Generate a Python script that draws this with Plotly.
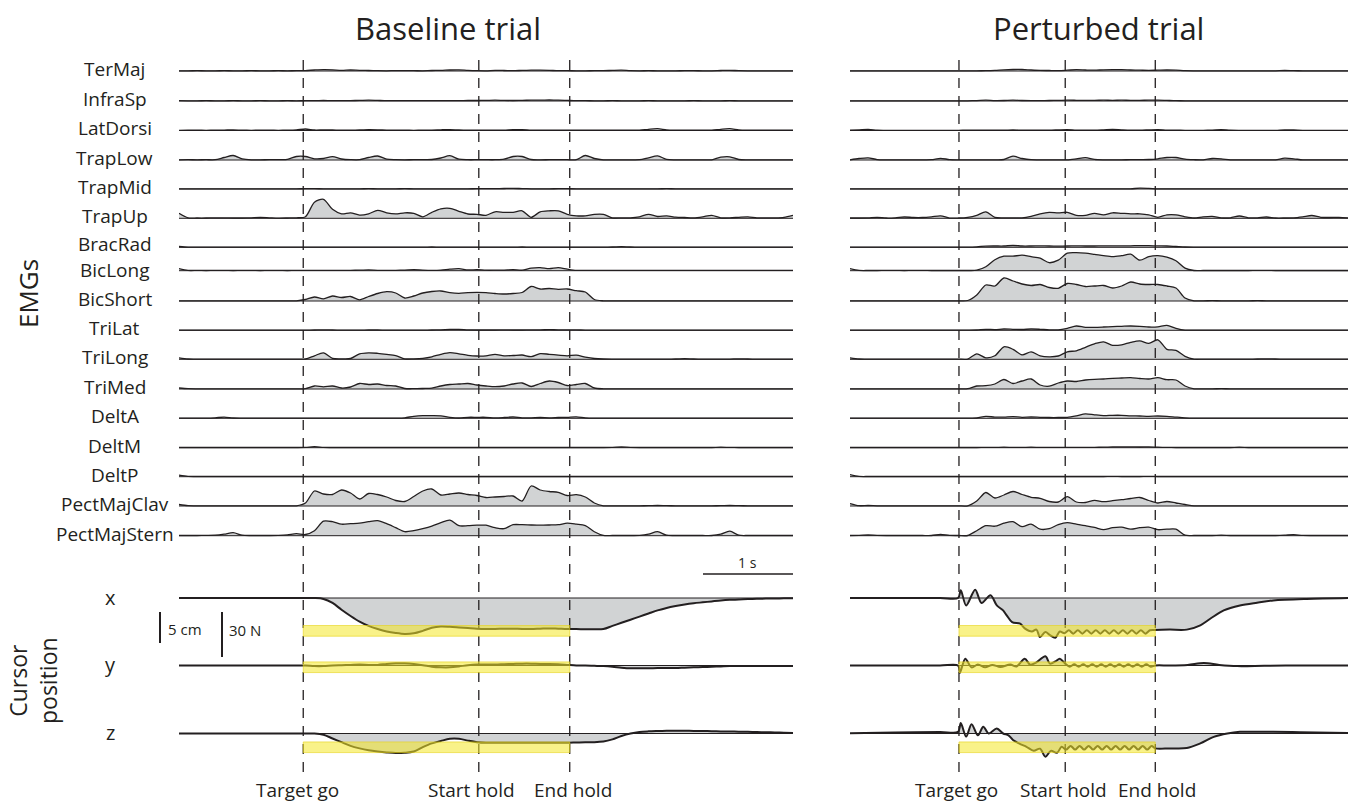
import plotly.graph_objects as go

# ------------------------------------------------------------------ data
MUSCLES = ["TerMaj", "InfraSp", "LatDorsi", "TrapLow", "TrapMid", "TrapUp",
           "BracRad", "BicLong", "BicShort", "TriLat", "TriLong", "TriMed",
           "DeltA", "DeltM", "DeltP", "PectMajClav", "PectMajStern"]
PANEL_TITLES = ["Baseline trial", "Perturbed trial"]
EVENT_LABELS = ["Target go", "Start hold", "End hold"]
EVENTS_B = [1.38, 3.33, 4.34]          # s
EVENTS_P = [1.21, 2.39, 3.39]          # s
DUR_B = 6.82                           # s
DUR_P = 5.53                           # s
CURSOR_LABELS = ["x", "y", "z"]
TARGET_CM = [-5.3, -0.28, -2.22]       # target centre per axis (cm)
TARGET_HALF_CM = 0.86
SCALE_TIME_S = 1
SCALE_POS_CM = 5
SCALE_FORCE_N = 30

# EMG envelopes, baseline trial (sampled every ~0.1 s, arbitrary units)
B_TERMAJ = [0.2,0.2,0.3,0.2,0.2,0.3,0.2,0.2,0.3,0.2,
            0.2,0.3,0.2,0.3,0.4,1.0,1.4,1.2,0.6,1.0,
            0.6,0.5,0.3,0.2,0.4,0.3,0.3,0.2,0.5,0.6,
            1.0,1.1,0.6,0.3,0.2,0.6,0.5,0.3,0.6,0.8,
            0.9,0.7,0.3,0.3,0.2,0.2,0.3,0.3,0.6,0.8,
            0.3,0.2,0.3,0.2,0.2,0.2,0.3,0.3,0.2,0.2,
            0.5,0.7,0.3,0.2,0.2,0.2,0.2,0.2,0.2]
B_INFRASP = [0.3,0.2,0.2,0.3,0.2,0.2,0.3,0.2,0.2,0.3,
             0.2,0.2,0.3,0.2,0.3,0.4,0.5,0.4,0.3,0.4,
             0.6,0.9,0.6,0.3,0.3,0.3,0.4,0.3,0.3,0.4,
             0.3,0.4,0.5,0.5,0.6,0.8,0.6,0.5,0.7,0.8,
             0.9,1.0,0.9,0.6,0.3,0.3,0.2,0.2,0.3,0.2,
             0.2,0.2,0.3,0.2,0.2,0.2,0.2,0.3,0.2,0.2,
             0.2,0.3,0.2,0.2,0.2,0.2,0.2,0.2,0.2]
B_LATDORSI = [0.2,0.3,0.3,0.2,0.3,0.4,0.6,0.3,0.2,0.3,
              0.3,0.2,0.3,0.6,1.5,0.5,0.6,0.5,0.3,0.4,
              0.5,0.8,0.7,0.4,0.3,0.3,0.2,0.3,0.4,0.7,
              0.9,0.5,0.3,0.3,0.3,0.3,0.4,0.8,0.9,0.4,
              0.3,0.3,0.3,0.3,0.3,0.3,0.3,0.3,0.3,0.3,
              0.3,0.3,1.2,1.8,0.6,0.3,0.3,0.3,0.3,0.3,
              1.2,1.8,0.6,0.3,0.3,0.3,0.3,0.3,0.3]
B_TRAPLOW = [0.2,0.3,0.2,0.3,0.3,2.5,4.5,1.2,0.2,0.2,
             0.3,0.4,0.6,3.5,3.5,1.2,1.5,3.3,1.0,0.3,
             0.3,2.5,4.0,0.8,0.3,0.2,0.3,0.4,0.5,2.0,
             4.3,0.8,0.3,0.3,0.3,0.3,0.8,3.5,3.5,0.5,
             0.2,0.3,0.3,0.3,0.3,4.5,1.5,0.2,0.2,0.2,
             0.2,0.3,2.2,4.2,0.6,0.2,0.2,0.2,0.2,0.2,
             2.8,3.2,0.5,0.2,0.2,0.2,0.2,0.2,0.2]
B_TRAPMID = [0.2,0.2,0.2,0.2,0.2,0.2,0.2,0.2,0.2,0.2,
             0.2,0.2,0.2,0.2,0.3,0.3,0.2,0.2,0.2,0.2,
             0.2,0.3,0.2,0.2,0.2,0.3,0.2,0.2,0.2,0.2,
             0.2,0.2,0.2,0.3,0.3,0.3,0.5,0.7,0.4,0.2,
             0.2,0.2,0.3,0.3,0.2,0.2,0.2,0.2,0.2,0.2,
             0.2,0.2,0.2,0.2,0.3,0.2,0.2,0.2,0.2,0.2,
             0.2,0.2,0.2,0.2,0.2,0.2,0.2,0.2,0.2]
B_TRAPUP = [5.0,0.5,0.3,0.3,0.5,0.4,0.3,0.3,0.5,0.8,
            0.5,0.2,0.3,0.5,1.5,16.0,19.0,9.0,4.5,5.5,
            3.2,4.5,8.0,5.5,4.5,5.5,5.0,1.5,6.0,9.5,
            10.0,7.0,4.3,4.0,3.0,6.5,6.0,6.0,7.5,1.0,
            6.5,7.5,7.5,4.0,2.5,2.5,4.0,4.0,0.5,0.5,
            0.5,1.5,4.0,1.8,2.5,1.2,0.8,0.5,1.5,3.0,
            0.5,0.4,1.0,1.5,0.5,0.5,0.5,1.0,3.0]
B_BRACRAD = [0.8,0.2,0.2,0.2,0.2,0.2,0.2,0.2,0.2,0.2,
             0.2,0.2,0.2,0.2,0.2,0.2,0.2,0.2,0.2,0.2,
             0.2,0.2,0.2,0.2,0.2,0.2,0.2,0.2,0.3,0.2,
             0.2,0.2,0.2,0.2,0.2,0.2,0.2,0.2,0.3,0.2,
             0.2,0.2,0.2,0.2,0.2,0.2,0.2,0.2,0.3,0.6,
             0.3,0.2,0.2,0.2,0.2,0.2,0.2,0.2,0.2,0.2,
             0.2,0.2,0.2,0.2,0.2,0.2,0.2,0.2,0.2]
B_BICLONG = [2.0,0.3,0.3,0.2,0.3,0.3,0.2,0.3,0.3,0.2,
             0.3,0.3,0.2,0.3,0.3,0.3,0.4,0.3,0.3,0.4,
             0.5,0.8,0.4,0.3,0.4,0.6,1.0,0.6,0.4,0.6,
             1.5,2.0,0.8,1.0,0.5,0.5,0.6,1.0,0.5,2.5,
             3.0,2.0,3.0,1.5,0.3,0.3,0.3,0.3,0.3,0.3,
             0.3,0.3,0.4,0.3,0.3,0.3,0.3,0.3,0.3,0.3,
             0.3,0.3,0.3,0.3,0.3,0.4,0.3,0.3,0.3]
B_BICSHORT = [0.2,0.2,0.2,0.2,0.2,0.2,0.2,0.2,0.2,0.2,
              0.2,0.2,0.2,0.2,1.5,4.0,2.2,5.0,3.5,4.5,
              1.2,4.5,7.5,9.3,8.0,3.0,5.0,8.0,9.5,10.0,
              8.3,7.7,8.3,8.6,8.3,7.5,7.0,7.5,8.5,14.5,
              12.0,12.5,11.7,12.0,10.3,9.0,1.5,0.2,0.2,0.2,
              0.2,0.2,0.2,0.2,0.2,0.2,0.2,0.2,0.2,0.2,
              0.2,0.2,0.2,0.2,0.2,0.2,0.2,0.2,0.2]
B_TRILAT = [0.2,0.2,0.2,0.2,0.2,0.2,0.2,0.2,0.2,0.2,
            0.2,0.2,0.2,0.2,0.2,0.3,0.5,0.3,0.2,0.2,
            0.2,0.3,0.3,0.2,0.2,0.2,0.2,0.2,0.3,0.5,
            0.9,1.0,0.5,0.3,0.3,0.3,0.4,0.3,0.3,0.4,
            0.5,0.6,0.5,0.5,0.4,0.2,0.2,0.2,0.2,0.2,
            0.2,0.2,0.2,0.2,0.2,0.2,0.2,0.2,0.2,0.2,
            0.2,0.2,0.2,0.2,0.2,0.2,0.2,0.2,0.2]
B_TRILONG = [1.5,0.3,0.2,0.2,0.2,0.2,0.2,0.2,0.2,0.2,
             0.2,0.2,0.2,0.2,0.3,3.5,6.5,1.0,0.5,0.8,
             5.5,6.5,6.0,5.0,3.7,0.5,0.5,1.0,2.5,5.0,
             6.7,5.5,4.0,3.3,3.5,5.0,3.5,3.8,4.3,2.7,
             5.7,5.0,4.2,3.5,4.2,2.2,0.8,0.3,0.2,0.2,
             0.2,0.2,0.2,0.2,0.2,0.3,0.6,0.3,0.2,0.2,
             0.2,0.2,0.5,0.3,0.2,0.2,0.2,0.2,0.2]
B_TRIMED = [1.0,0.3,0.2,0.2,0.2,0.2,0.2,0.2,0.2,0.2,
            0.2,0.2,0.2,0.2,0.3,3.0,2.2,3.0,1.0,2.0,
            5.5,4.5,5.0,3.5,3.0,0.5,0.3,0.5,0.8,3.0,
            4.5,5.0,5.5,4.0,3.0,2.3,3.0,5.0,6.0,2.5,
            5.5,8.0,6.5,3.5,4.5,5.5,1.0,0.2,0.2,0.2,
            0.2,0.2,0.2,0.2,0.2,0.2,0.2,0.2,0.2,0.2,
            0.2,0.2,0.2,0.2,0.2,0.2,0.2,0.2,0.2]
B_DELTA = [0.2,0.2,0.2,0.2,0.5,1.2,0.3,0.2,0.2,0.2,
           0.2,0.2,0.2,0.2,0.2,0.2,0.2,0.2,0.2,0.2,
           0.2,0.2,0.2,0.2,0.2,0.5,2.0,2.7,2.7,2.5,
           1.0,0.3,1.0,1.0,1.0,0.5,0.8,1.3,0.5,0.5,
           0.8,0.5,0.8,1.0,1.5,0.5,0.2,0.2,0.2,0.2,
           0.2,0.2,0.2,0.2,0.2,0.2,0.2,0.2,0.2,0.2,
           0.2,0.2,0.2,0.2,0.2,0.2,0.2,0.2,0.2]
B_DELTM = [0.2,0.2,0.2,0.2,0.2,0.2,0.2,0.2,0.2,0.2,
           0.2,0.2,0.2,0.2,0.3,1.0,0.4,0.2,0.2,0.2,
           0.2,0.2,0.2,0.2,0.2,0.2,0.2,0.2,0.2,0.2,
           0.2,0.2,0.2,0.2,0.2,0.2,0.2,0.2,0.2,0.2,
           0.2,0.2,0.2,0.2,0.2,0.2,0.2,0.2,0.3,0.7,
           0.3,0.2,0.2,0.2,0.2,0.2,0.2,0.2,0.2,0.2,
           0.5,0.3,0.2,0.2,0.2,0.2,0.2,0.2,0.2]
B_DELTP = [1.5,0.3,0.2,0.2,0.2,0.2,0.2,0.2,0.2,0.2,
           0.2,0.2,0.2,0.2,0.2,0.2,0.2,0.2,0.2,0.2,
           0.2,0.2,0.2,0.2,0.2,0.2,0.2,0.2,0.2,0.2,
           0.2,0.2,0.2,0.2,0.2,0.2,0.2,0.2,0.2,0.2,
           0.2,0.2,0.2,0.2,0.2,0.2,0.2,0.2,0.2,0.2,
           0.2,0.2,0.2,0.2,0.2,0.2,0.2,0.2,0.2,0.2,
           0.2,0.2,0.2,0.2,0.2,0.2,0.2,0.2,0.2]
B_PECTCLAV = [1.5,0.3,0.2,0.2,0.2,0.2,0.2,0.2,0.2,0.2,
              0.2,0.2,0.2,0.2,3.0,15.0,12.0,11.5,16.0,13.0,
              7.0,12.5,11.5,9.0,5.5,4.5,9.5,15.0,17.0,11.0,
              12.0,13.0,11.5,10.5,8.5,9.0,9.5,10.0,5.0,20.0,
              16.0,14.5,13.7,10.5,11.3,9.0,3.0,0.2,0.2,0.2,
              0.2,0.2,0.3,0.5,0.3,0.2,0.2,0.2,0.2,0.2,
              0.3,0.5,0.3,0.2,0.2,0.2,0.2,0.2,0.2]
B_PECTSTERN = [0.2,0.2,0.2,0.3,0.5,1.5,3.0,0.5,0.2,0.2,
               0.2,0.3,0.8,2.0,1.2,5.0,14.5,14.0,11.5,12.0,
               12.5,14.0,15.0,12.0,8.0,4.0,5.0,7.0,9.5,13.0,
               15.5,10.0,10.0,10.5,10.5,8.0,7.0,11.0,11.0,10.7,
               10.5,10.7,11.0,12.5,11.5,10.0,4.0,0.3,0.2,0.2,
               0.2,0.3,1.5,4.0,0.5,0.2,0.2,0.2,0.2,0.2,
               1.5,4.5,0.5,0.2,0.2,0.2,0.2,0.2,0.2]

# EMG envelopes, perturbed trial
P_TERMAJ = [0.2,0.2,0.2,0.2,0.2,0.2,0.2,0.2,0.2,0.2,
            0.2,0.2,0.2,0.2,0.2,0.3,0.6,1.2,1.5,1.5,
            1.0,0.6,0.5,0.4,0.8,1.3,1.0,0.8,1.2,1.3,
            1.3,1.0,0.8,0.6,0.8,1.0,0.8,0.3,0.2,0.2,
            0.2,0.2,0.2,0.2,0.2,0.2,0.2,0.2,0.5,0.3,
            0.2,0.2,0.2,0.2,0.2,0.2]
P_INFRASP = [0.2,0.2,0.2,0.2,0.2,0.2,0.2,0.2,0.2,0.2,
             0.2,0.2,0.2,0.2,0.4,0.8,0.4,0.5,0.9,0.5,
             0.4,0.4,0.5,0.6,0.8,0.7,0.6,0.7,0.8,0.7,
             0.8,0.7,0.7,0.8,0.9,0.6,0.3,0.2,0.2,0.2,
             0.2,0.2,0.2,0.2,0.2,0.2,0.2,0.2,0.2,0.2,
             0.2,0.2,0.2,0.2,0.2,0.2]
P_LATDORSI = [0.3,0.6,1.0,0.4,0.2,0.2,0.2,0.2,0.2,0.2,
              0.2,0.2,0.2,0.4,0.3,0.3,0.4,0.3,0.6,0.3,
              0.3,0.3,0.3,0.6,0.9,0.4,0.4,0.3,0.6,1.0,
              0.6,0.3,0.3,0.6,0.9,0.4,0.3,0.2,0.2,0.2,
              0.4,0.8,0.3,0.2,0.2,0.2,0.2,0.2,0.6,0.5,
              0.2,0.2,0.2,0.2,0.2,0.2]
P_TRAPLOW = [0.2,1.5,2.2,0.4,0.2,0.2,0.2,0.2,0.2,0.3,
             1.7,0.4,0.2,0.2,0.2,0.2,0.2,0.5,3.8,1.5,
             0.3,0.2,0.2,0.2,0.2,1.2,2.4,0.6,0.2,0.2,
             0.2,0.3,0.3,0.5,1.2,2.5,2.5,0.8,0.3,0.2,
             1.5,1.2,0.2,0.2,0.2,0.2,0.2,0.2,1.8,1.2,
             0.2,0.2,0.2,0.2,0.2,0.2]
P_TRAPMID = [0.2,0.2,0.2,0.2,0.2,0.2,0.2,0.2,0.2,0.2,
             0.2,0.2,0.2,0.2,0.2,0.2,0.2,0.2,0.2,0.2,
             0.2,0.2,0.2,0.2,0.2,0.2,0.2,0.2,0.2,0.2,
             0.2,0.2,0.8,0.6,0.2,0.2,0.2,0.2,0.2,0.2,
             0.2,0.2,0.2,0.2,0.2,0.2,0.2,0.2,0.2,0.2,
             0.2,0.2,0.2,0.2,0.2,0.2]
P_TRAPUP = [0.3,0.3,0.5,1.0,0.3,0.5,1.3,0.8,0.8,1.5,
            2.5,0.2,0.3,1.0,3.0,6.5,1.0,0.5,0.5,0.5,
            2.0,4.5,6.0,5.5,6.0,3.0,3.0,5.0,3.5,5.5,
            5.0,4.5,4.5,3.5,1.0,3.5,3.5,1.5,0.3,1.5,
            2.0,0.5,0.5,2.3,0.5,0.5,1.3,0.3,0.3,0.5,
            1.5,2.8,1.0,0.8,1.0,0.5]
P_BRACRAD = [0.2,0.2,0.2,0.2,0.2,0.2,0.2,0.2,0.2,0.2,
             0.2,0.2,0.2,0.2,0.5,1.2,1.3,1.3,1.8,1.3,
             1.3,1.4,1.3,1.2,1.3,1.4,1.3,1.3,1.5,1.4,
             1.4,1.5,1.7,1.6,1.4,1.3,0.8,0.3,0.2,0.2,
             0.2,0.2,0.2,0.2,0.2,0.2,0.2,0.2,0.2,0.2,
             0.2,0.2,0.2,0.2,0.2,0.2]
P_BICLONG = [2.0,0.3,0.2,0.2,0.3,0.3,0.2,0.3,0.4,0.2,
             0.2,0.2,0.2,0.2,0.5,4.0,11.0,14.5,14.5,15.5,
             14.0,12.5,8.0,10.5,17.5,18.0,17.5,16.3,15.0,14.0,
             15.0,16.5,10.5,14.0,15.0,13.5,10.0,2.5,0.2,0.2,
             0.2,0.2,0.2,0.2,0.2,0.3,0.3,0.2,0.2,0.2,
             0.2,0.2,0.2,0.2,0.2,0.2]
P_BICSHORT = [0.2,0.2,0.2,0.2,0.2,0.2,0.2,0.2,0.2,0.2,
              0.2,0.2,0.2,0.5,6.0,16.0,15.0,23.0,20.0,17.0,
              15.5,16.5,13.5,12.7,17.5,16.5,14.5,15.0,15.5,13.0,
              15.0,19.0,17.0,16.5,16.5,15.0,13.0,3.0,0.2,0.2,
              0.3,0.2,0.2,0.2,0.2,0.3,0.2,0.2,0.2,0.2,
              0.2,0.2,0.2,0.2,0.2,0.2]
P_TRILAT = [0.2,0.2,0.2,0.2,0.2,0.2,0.2,0.2,0.2,0.2,
            0.2,0.2,0.2,0.2,0.3,1.0,0.7,1.3,1.0,0.8,
            1.3,1.0,0.5,0.5,2.0,4.3,3.0,3.0,3.3,3.7,
            4.0,4.3,4.0,3.3,3.5,5.0,2.0,0.2,0.2,0.2,
            0.2,0.2,0.2,0.2,0.2,0.2,0.2,0.2,0.2,0.2,
            0.2,0.2,0.2,0.2,0.2,0.2]
P_TRILONG = [1.5,0.3,0.2,0.2,0.2,0.2,0.2,0.2,0.2,0.2,
             0.2,0.2,0.2,0.2,5.5,1.5,3.5,12.5,10.0,4.5,
             7.5,3.5,2.5,3.3,7.5,8.5,12.0,15.5,17.5,14.0,
             14.5,17.0,18.5,16.0,19.5,10.0,9.0,3.0,0.2,0.2,
             0.2,0.2,0.2,0.2,0.2,0.3,0.5,0.3,0.2,0.2,
             0.2,0.2,0.2,0.2,0.2,0.2]
P_TRIMED = [0.2,0.2,0.2,0.2,0.2,0.2,0.2,0.2,0.2,0.2,
            0.2,0.2,0.2,0.3,3.0,3.3,5.0,9.5,5.5,8.0,
            10.0,4.0,2.8,6.0,8.0,7.5,9.0,9.7,10.0,10.7,
            11.0,11.3,10.5,10.0,11.3,9.3,9.0,3.0,0.2,0.2,
            0.2,0.3,0.2,0.2,0.2,0.2,0.2,0.2,0.2,0.2,
            0.2,0.2,0.2,0.2,0.2,0.2]
P_DELTA = [0.2,0.2,0.2,0.2,0.2,0.2,0.2,0.2,0.2,0.2,
           0.2,0.2,0.2,0.2,0.3,2.0,1.2,1.2,1.7,1.0,
           1.3,1.0,0.8,0.8,1.0,2.5,4.5,3.5,2.7,3.0,
           3.0,2.5,2.3,2.0,2.3,2.0,1.2,0.5,0.2,0.2,
           0.2,0.2,0.2,0.2,0.2,0.2,0.2,0.2,0.2,0.2,
           0.2,0.2,0.2,0.2,0.2,0.2]
P_DELTM = [0.2,0.2,0.2,0.2,0.2,0.2,0.2,0.2,0.2,0.2,
           0.2,0.2,0.2,0.2,0.2,0.3,0.3,0.5,0.3,0.3,
           0.5,0.3,0.3,0.3,0.3,0.4,0.4,0.4,0.5,0.8,
           0.8,0.8,0.7,0.8,0.5,0.3,0.2,0.2,0.2,0.2,
           0.2,0.2,0.2,0.5,0.2,0.2,0.2,0.2,0.2,0.2,
           0.2,0.2,0.2,0.2,0.2,0.2]
P_DELTP = [2.0,0.3,0.2,0.2,0.2,0.2,0.2,0.2,0.2,0.2,
           0.2,0.2,0.2,0.2,0.2,0.2,0.2,0.2,0.2,0.2,
           0.2,0.2,0.2,0.2,0.2,0.2,0.2,0.2,0.2,0.4,
           0.2,0.2,0.2,0.4,0.2,0.2,0.2,0.2,0.2,0.2,
           0.2,0.2,0.2,0.2,0.2,0.2,0.2,0.2,0.2,0.2,
           0.2,0.2,0.2,0.2,0.2,0.2]
P_PECTCLAV = [2.5,0.3,0.5,0.2,0.2,0.2,0.2,0.2,0.2,0.2,
              0.2,0.2,0.2,0.2,5.0,13.5,8.0,11.0,14.5,11.5,
              8.7,7.7,4.5,4.0,9.3,4.0,3.5,5.7,4.3,5.3,
              6.3,7.5,8.5,5.5,3.0,4.5,3.0,1.5,0.2,0.2,
              0.2,0.2,0.2,0.2,0.2,0.2,0.2,0.2,0.2,0.2,
              0.2,0.2,0.2,0.2,0.2,0.2]
P_PECTSTERN = [0.2,0.3,0.7,0.3,0.2,0.2,0.2,0.2,0.2,0.2,
               1.3,0.3,0.2,0.2,5.0,10.0,9.5,12.5,14.0,9.0,
               11.5,6.5,7.0,11.0,13.0,11.5,10.0,8.3,6.0,8.0,
               8.5,6.5,8.0,8.5,6.0,6.5,6.5,0.5,0.2,0.2,
               0.2,0.5,0.2,0.2,0.2,0.2,0.2,0.2,0.5,1.0,
               0.3,0.2,0.2,0.2,0.2,0.2]

# Cursor position, baseline trial (cm, sampled every ~0.1 s)
B_CUR_X = [0,0,0,0,0,0,0,0,0,0,
           0,0,0,0,0,0,-0.15,-0.8,-1.9,-2.9,
           -3.8,-4.5,-5.0,-5.4,-5.65,-5.8,-5.7,-5.3,-4.8,-4.6,
           -4.65,-4.75,-4.85,-4.95,-5.0,-5.0,-4.95,-4.95,-5.0,-5.0,
           -4.95,-4.9,-4.95,-5.0,-5.0,-5.05,-5.05,-5.0,-4.5,-4.0,
           -3.5,-3.0,-2.5,-2.0,-1.6,-1.3,-1.05,-0.85,-0.7,-0.55,
           -0.4,-0.3,-0.25,-0.18,-0.14,-0.1,-0.08,-0.06,-0.05]
B_CUR_Y = [0,0,0,0,0,0,0,0,0,0,
           0,0,0,0,0,-0.1,-0.1,0,0.05,0.1,
           0.15,0.1,0.1,0.25,0.35,0.35,0.25,0.05,-0.2,-0.3,
           -0.3,-0.15,0.05,0.15,0.15,0.15,0.2,0.25,0.3,0.3,
           0.25,0.25,0.2,0.1,0,0,-0.05,-0.1,-0.2,-0.35,
           -0.45,-0.45,-0.45,-0.4,-0.4,-0.4,-0.35,-0.3,-0.25,-0.2,
           -0.15,-0.1,-0.1,-0.1,-0.1,-0.1,-0.1,-0.1,-0.1]
B_CUR_Z = [0,0,0,0,0,0,0,0,0,0,
           0,0,0,0,0,0,-0.2,-0.8,-1.4,-2.0,
           -2.4,-2.7,-2.9,-3.05,-3.15,-3.1,-2.9,-2.2,-1.6,-1.2,
           -0.85,-0.85,-1.15,-1.4,-1.5,-1.5,-1.5,-1.5,-1.5,-1.5,
           -1.5,-1.5,-1.5,-1.5,-1.45,-1.4,-1.4,-1.3,-0.95,-0.4,
           0.0,0.25,0.35,0.4,0.43,0.44,0.43,0.42,0.4,0.37,
           0.34,0.32,0.3,0.27,0.24,0.2,0.17,0.14,0.1]

# Cursor position, perturbed trial (cm) with its own sample times (s)
P_CUR_X_T = [0, 0.5, 1.0, 1.2, 1.23, 1.29, 1.39, 1.46, 1.56,
             1.63, 1.70, 1.74, 1.80, 1.89, 1.94, 2.02, 2.07, 2.11, 2.17,
             2.22, 2.28, 2.33, 2.38, 2.43, 2.48, 2.53, 2.58, 2.63, 2.68,
             2.73, 2.78, 2.83, 2.88, 2.93, 2.98, 3.03, 3.08, 3.13, 3.18,
             3.23, 3.28, 3.33, 3.39, 3.55, 3.74, 3.89, 4.0, 4.15, 4.33,
             4.52, 4.7, 5.07, 5.53]
P_CUR_X = [0, 0, 0, 0, 1.25, -1.2, 1.35, -0.8, 0.45,
           -1.2, -2.0, -2.8, -3.9, -4.15, -4.9, -5.4, -5.1, -6.3, -5.5,
           -6.0, -6.4, -5.4, -5.7, -5.2, -5.75, -5.2, -5.75, -5.2, -5.75,
           -5.2, -5.75, -5.2, -5.75, -5.2, -5.75, -5.2, -5.75, -5.2, -5.75,
           -5.2, -5.75, -5.2, -5.15, -5.1, -5.1, -4.4, -3.35, -2.0, -1.2,
           -0.75, -0.4, -0.15, 0]
P_CUR_Y_T = [0, 0.5, 1.0, 1.2, 1.22, 1.28, 1.35, 1.42, 1.50,
             1.58, 1.67, 1.78, 1.85, 1.94, 2.00, 2.07, 2.17, 2.22, 2.28,
             2.33, 2.39, 2.44, 2.49, 2.54, 2.59, 2.64, 2.69, 2.74, 2.79,
             2.84, 2.89, 2.94, 2.99, 3.04, 3.09, 3.14, 3.19, 3.24, 3.29,
             3.34, 3.39, 3.55, 3.75, 3.93, 4.1, 4.3, 4.6, 5.0, 5.53]
P_CUR_Y = [0, 0, 0, 0, -1.2, 1.1, -0.3, 0.15, -0.3,
           0.1, -0.25, 0.15, -0.15, 1.1, 0.15, 0.5, 1.5, 0.3, 0.65,
           1.1, 0.3, -0.2, 0.2, -0.2, 0.2, -0.2, 0.2, -0.2, 0.2,
           -0.2, 0.2, -0.2, 0.2, -0.2, 0.2, -0.2, 0.2, -0.2, 0.2,
           -0.2, 0.0, 0.0, 0.1, 0.4, 0.1, -0.1, -0.05, 0, 0]
P_CUR_Z_T = [0, 0.5, 1.0, 1.2, 1.23, 1.29, 1.35, 1.42, 1.48,
             1.54, 1.63, 1.70, 1.76, 1.81, 1.89, 1.96, 2.04, 2.11, 2.17,
             2.23, 2.30, 2.35, 2.40, 2.45, 2.50, 2.55, 2.60, 2.65, 2.70,
             2.75, 2.80, 2.85, 2.90, 2.95, 3.00, 3.05, 3.10, 3.15, 3.20,
             3.25, 3.30, 3.35, 3.39, 3.55, 3.74, 3.89, 4.04, 4.19, 4.33,
             4.5, 4.7, 5.0, 5.53]
P_CUR_Z = [0.05, 0.15, 0.25, 0.27, 1.7, -0.5, 1.5, -0.3, 1.1,
           0.0, 0.8, 0.0, -0.3, -1.05, -1.7, -2.15, -2.8, -2.45, -3.75,
           -2.8, -3.1, -2.15, -2.6, -2.0, -2.6, -2.0, -2.6, -2.0, -2.6,
           -2.0, -2.6, -2.0, -2.6, -2.0, -2.6, -2.0, -2.6, -2.0, -2.6,
           -2.0, -2.6, -2.0, -2.4, -2.4, -2.35, -1.6, -0.55, 0.0, 0.27,
           0.3, 0.28, 0.2, 0.1]

# ------------------------------------------------------------------ layout / style
W, H = 1361, 804
FONT = "Open Sans"
INK = "#231f20"
FILL = "#d1d3d4"
PANEL_PX = [(179, 793), (850, 1348)]           # horizontal extent of each panel
TITLE_X = [448, 1098]
ROW_Y = [71, 101, 130.5, 160, 189, 218.3, 247.3, 270.7, 301, 330.3,
         359.3, 389, 418.3, 447.7, 476.7, 506, 535.7]   # EMG row baselines (px)
LABEL_DY = [-2, -2, -2, -2, -2, -2, -3.5, -1, -2, -2,
            -2, -2, -2, -2, -2, -2, -2]                # label offset from row (px)
CUR_Y = [598, 665.5, 733.5]                    # cursor row baselines (px)
EMG_GAIN = 1.0                                 # px per EMG unit
PX_PER_CM = 6.2
PX_PER_N = 1.5
DASH_TOP, DASH_BOT = 60, 776

B_EMG = [B_TERMAJ, B_INFRASP, B_LATDORSI, B_TRAPLOW, B_TRAPMID, B_TRAPUP,
         B_BRACRAD, B_BICLONG, B_BICSHORT, B_TRILAT, B_TRILONG, B_TRIMED,
         B_DELTA, B_DELTM, B_DELTP, B_PECTCLAV, B_PECTSTERN]
P_EMG = [P_TERMAJ, P_INFRASP, P_LATDORSI, P_TRAPLOW, P_TRAPMID, P_TRAPUP,
         P_BRACRAD, P_BICLONG, P_BICSHORT, P_TRILAT, P_TRILONG, P_TRIMED,
         P_DELTA, P_DELTM, P_DELTP, P_PECTCLAV, P_PECTSTERN]


def grid(n, dur):
    return [i * dur / (n - 1) for i in range(n)]


def px_x(x):
    return x / W


def px_y(y):
    return 1 - y / H


def text(x, y, s, size, xanchor="center", angle=0, pad=1):
    return dict(xref="paper", yref="paper", x=px_x(x), y=px_y(y), text=s,
                showarrow=False, xanchor=xanchor, yanchor="middle", textangle=angle,
                borderpad=pad, font=dict(family=FONT, size=size, color=INK))


fig = go.Figure()


def add_row(t, vals, base_px, gain, xa, lw, shape_smooth):
    dur = t[-1]
    fig.add_trace(go.Scatter(x=[t[0], dur], y=[-base_px, -base_px], mode="lines",
                             line=dict(color=INK, width=1), xaxis=xa, yaxis="y",
                             hoverinfo="skip"))
    fig.add_trace(go.Scatter(x=t, y=[-base_px + v * gain for v in vals], mode="lines",
                             line=dict(color=INK, width=lw, shape="spline",
                                       smoothing=shape_smooth),
                             fill="tonexty", fillcolor=FILL, xaxis=xa, yaxis="y",
                             hoverinfo="skip"))


# EMG rows
for emg_set, dur, xa in [(B_EMG, DUR_B, "x"), (P_EMG, DUR_P, "x2")]:
    for vals, base in zip(emg_set, ROW_Y):
        add_row(grid(len(vals), dur), vals, base, EMG_GAIN, xa, 1.3, 0.8)

# Cursor rows
for vals, base in zip([B_CUR_X, B_CUR_Y, B_CUR_Z], CUR_Y):
    add_row(grid(len(vals), DUR_B), vals, base, PX_PER_CM, "x", 2, 0.9)
for t, vals, base in zip([P_CUR_X_T, P_CUR_Y_T, P_CUR_Z_T],
                         [P_CUR_X, P_CUR_Y, P_CUR_Z], CUR_Y):
    add_row(t, vals, base, PX_PER_CM, "x2", 2, 0.9)

shapes = []
annotations = []

# event lines, target bands, event labels
for events, xa, shifts in [(EVENTS_B, "x", [-6, -7, 3]), (EVENTS_P, "x2", [-2, -2, 2])]:
    for ev, lab, sh in zip(events, EVENT_LABELS, shifts):
        shapes.append(dict(type="line", xref=xa, yref="y", x0=ev, x1=ev,
                           y0=-DASH_TOP, y1=-DASH_BOT,
                           line=dict(color=INK, width=1.3, dash="10px,8px")))
        annotations.append(dict(xref=xa, yref="paper", x=ev, y=px_y(790), xshift=sh,
                                text=lab, showarrow=False, xanchor="center",
                                yanchor="middle",
                                font=dict(family=FONT, size=19, color=INK)))
    for tgt, base in zip(TARGET_CM, CUR_Y):
        shapes.append(dict(type="rect", xref=xa, yref="y", layer="above",
                           x0=events[0], x1=events[2],
                           y0=-base + (tgt - TARGET_HALF_CM) * PX_PER_CM,
                           y1=-base + (tgt + TARGET_HALF_CM) * PX_PER_CM,
                           fillcolor="rgba(244,232,40,0.55)",
                           line=dict(color="rgba(230,210,20,0.6)", width=1)))

# time scale bar
shapes.append(dict(type="line", xref="x", yref="y", x0=DUR_B - SCALE_TIME_S, x1=DUR_B,
                   y0=-574, y1=-574, line=dict(color=INK, width=1.3)))
annotations.append(dict(xref="x", yref="paper", x=DUR_B - SCALE_TIME_S / 2, y=px_y(562),
                        text=f"{SCALE_TIME_S} s", showarrow=False, xanchor="center",
                        yanchor="middle", font=dict(family=FONT, size=14, color=INK)))
# position & force scale bars
shapes.append(dict(type="line", xref="paper", yref="y", x0=px_x(160), x1=px_x(160),
                   y0=-612, y1=-612 - SCALE_POS_CM * PX_PER_CM,
                   line=dict(color=INK, width=2)))
annotations.append(text(166, 629, f"{SCALE_POS_CM} cm", 15, xanchor="left"))
shapes.append(dict(type="line", xref="paper", yref="y", x0=px_x(222), x1=px_x(222),
                   y0=-612, y1=-612 - SCALE_FORCE_N * PX_PER_N,
                   line=dict(color=INK, width=2)))
annotations.append(text(227, 630, f"{SCALE_FORCE_N} N", 15, xanchor="left"))

# titles
for title, tx in zip(PANEL_TITLES, TITLE_X):
    annotations.append(text(tx, 28, title, 31))
# muscle labels
for name, base, dy in zip(MUSCLES, ROW_Y, LABEL_DY):
    annotations.append(text(115, base + dy, name, 19, pad=0))
# cursor labels
for name, base in zip(CURSOR_LABELS, CUR_Y):
    annotations.append(text(111, base - 1, name, 20))
# side group labels
annotations.append(text(28, 294, "EMGs", 26, angle=-90))
annotations.append(text(33, 681, "Cursor<br>position", 23, angle=-90))

fig.update_layout(
    width=W, height=H, margin=dict(l=0, r=0, t=0, b=0),
    paper_bgcolor="white", plot_bgcolor="white", showlegend=False,
    xaxis=dict(domain=[PANEL_PX[0][0] / W, PANEL_PX[0][1] / W], range=[0, DUR_B],
               visible=False, fixedrange=True),
    xaxis2=dict(domain=[PANEL_PX[1][0] / W, PANEL_PX[1][1] / W], range=[0, DUR_P],
                visible=False, anchor="y", fixedrange=True),
    yaxis=dict(domain=[0, 1], range=[-H, 0], visible=False, fixedrange=True),
    shapes=shapes, annotations=annotations,
)

fig.write_html("out.html")
